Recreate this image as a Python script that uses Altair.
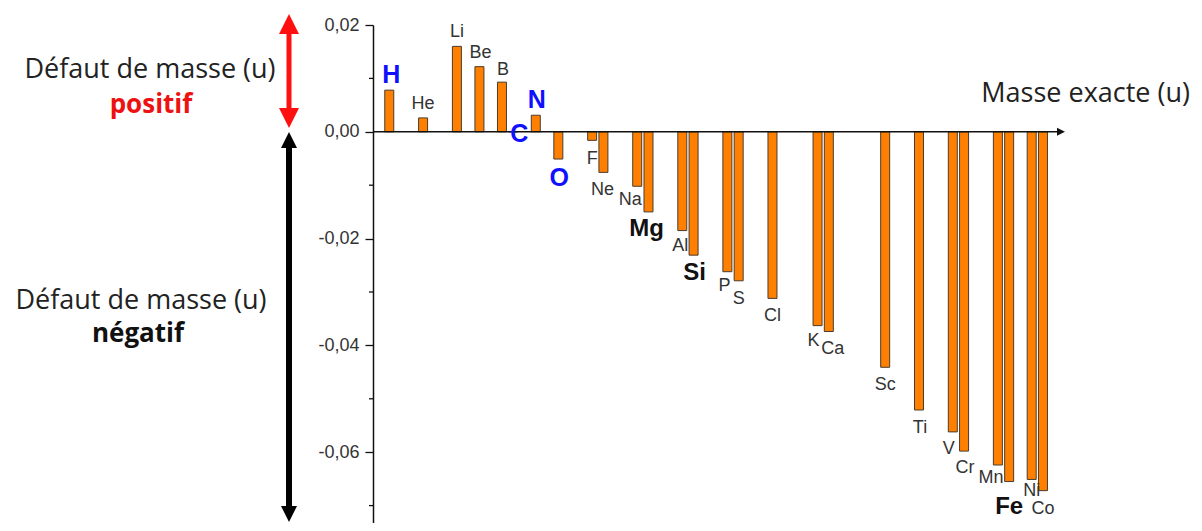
import altair as alt
import pandas as pd

# ---- data ----
elements = ["H", "He", "Li", "Be", "B", "C", "N", "O", "F", "Ne", "Na", "Mg", "Al", "Si",
            "P", "S", "Cl", "K", "Ca", "Sc", "Ti", "V", "Cr", "Mn", "Fe", "Ni", "Co"]
masses = [1, 4, 7, 9, 11, 12, 14, 16, 19, 20, 23, 24, 27, 28,
          31, 32, 35, 39, 40, 45, 48, 51, 52, 55, 56, 58, 59]
defects = [0.0078, 0.0026, 0.0160, 0.0122, 0.0093, 0.0, 0.0031, -0.0051, -0.0016, -0.0076,
           -0.0102, -0.0150, -0.0185, -0.0231, -0.0262, -0.0279, -0.0312, -0.0363, -0.0374,
           -0.0441, -0.0521, -0.0562, -0.0598, -0.0624, -0.0655, -0.0651, -0.0672]
y_major = [0.02, 0.0, -0.02, -0.04, -0.06]
y_minor = [0.01, -0.01, -0.03, -0.05, -0.07]

# ---- label layout (pixel offsets from bar end) and styles ----
label_dx = [2, 0, 0, 1, 1, 6, 1, 1, 0, -1, -7, -2, -2, 1, -3, 0, 0, -4, 4, 0, 1, -4, 1, -7, 0, 0, 0]
label_dy = [-15, -14, -14, -14, -12, 2, -15, 19, 19, 18, 14, 17, 15, 18, 14, 18, 18, 15, 17, 18,
            18, 17, 17, 13, 25, 12, 18]
label_style = ["blue", "reg", "reg", "reg", "reg", "blue", "blue", "blue", "reg", "reg", "reg",
               "bold", "reg", "bold", "reg", "reg", "reg", "reg", "reg", "reg", "reg", "reg",
               "reg", "reg", "bold", "reg", "reg"]

df = pd.DataFrame({"element": elements, "masse": masses, "defaut": defects})

W, H = 693, 498
xscale = alt.Scale(domain=[0, 60.6], nice=False, zero=False)
yscale = alt.Scale(domain=[-0.07326, 0.02], nice=False, zero=False)

X = alt.X("masse:Q", scale=xscale, axis=None)

yaxis = alt.Axis(
    values=y_major,
    labelExpr="replace(replace(format(datum.value, '.2f'), '.', ','), '\u2212', '-')",
    tickSize=8, tickColor="#111", tickWidth=1.3,
    domainColor="#111", domainWidth=1.5,
    labelFont="Liberation Sans", labelFontSize=18, labelColor="#333",
    labelPadding=6, grid=False, title=None,
)

bars = alt.Chart(df).mark_bar(size=9, color="#ff8000", stroke="#4a3c2e", strokeWidth=1).encode(
    x=X,
    y=alt.Y("defaut:Q", scale=yscale, axis=yaxis),
    y2=alt.Y2Datum(0),
)

minor = alt.Chart(pd.DataFrame({"v": y_minor})).mark_rule(color="#111", strokeWidth=1.3).encode(
    y=alt.Y("v:Q", scale=yscale),
    x=alt.value(-4), x2=alt.value(0),
)

# x axis line with arrow head at y = 0
xline = alt.Chart(pd.DataFrame({"v": [0.0]})).mark_rule(color="#111", strokeWidth=1.5).encode(
    y=alt.Y("v:Q", scale=yscale), x=alt.value(0), x2=alt.value(688),
)
xhead = alt.Chart(pd.DataFrame({"v": [0.0]})).mark_point(
    shape="M0,0L-2,-1L-2,1Z", filled=True, color="#111", opacity=1, size=64
).encode(y=alt.Y("v:Q", scale=yscale), x=alt.value(692))

styles = {
    "reg": dict(font="Liberation Sans", fontSize=18, color="#333", fontWeight="normal"),
    "blue": dict(font="Liberation Sans", fontSize=25, color="#1010ff", fontWeight="bold"),
    "bold": dict(font="Liberation Sans", fontSize=24, color="#111", fontWeight="bold"),
}
label_layers = []
for el, ddx, ddy, key in zip(elements, label_dx, label_dy, label_style):
    label_layers.append(
        alt.Chart(df).transform_filter(alt.datum.element == el).mark_text(
            align="center", baseline="middle", dx=ddx, dy=ddy, **styles[key]
        ).encode(
            x=X,
            y=alt.Y("defaut:Q", scale=yscale),
            text="element:N",
        )
    )

one = pd.DataFrame({"a": [0]})


def note(text, x, y, size=27, color="#222", weight="normal", align="center"):
    return alt.Chart(one).mark_text(
        text=text, font="Open Sans", fontSize=size, color=color, fontWeight=weight,
        align=align, baseline="middle"
    ).encode(x=alt.value(x), y=alt.value(y))


notes = [
    note("Défaut de masse (u)", -223, 45),
    note("positif", -222, 80, size=26, color="#ee1111", weight="bold"),
    note("Défaut de masse (u)", -232, 276),
    note("négatif", -235, 309, size=26, color="#111", weight="bold"),
    note("Masse exacte (u)", 817, 69, size=27, align="right"),
]

# left arrows (decorations)
AX = -84
red_line = alt.Chart(one).mark_rule(color="#ff1010", strokeWidth=5).encode(
    x=alt.value(AX), y=alt.value(-1), y2=alt.value(94))
red_up = alt.Chart(one).mark_point(shape="M0,0L1,2L-1,2Z", filled=True, color="#ff1010",
                                   opacity=1, size=400).encode(x=alt.value(AX), y=alt.value(-11))
red_down = alt.Chart(one).mark_point(shape="M0,0L1,-2L-1,-2Z", filled=True, color="#ff1010",
                                     opacity=1, size=400).encode(x=alt.value(AX), y=alt.value(103))
blk_line = alt.Chart(one).mark_rule(color="#000", strokeWidth=6).encode(
    x=alt.value(AX), y=alt.value(118), y2=alt.value(486))
blk_up = alt.Chart(one).mark_point(shape="M0,0L1,2L-1,2Z", filled=True, color="#000",
                                   opacity=1, size=256).encode(x=alt.value(AX), y=alt.value(107))
blk_down = alt.Chart(one).mark_point(shape="M0,0L1,-2L-1,-2Z", filled=True, color="#000",
                                     opacity=1, size=256).encode(x=alt.value(AX), y=alt.value(497))

chart = alt.layer(
    bars, minor, xline, xhead, *label_layers, *notes,
    red_line, red_up, red_down, blk_line, blk_up, blk_down,
).properties(
    width=W, height=H, background="white",
    padding={"left": 365, "top": 17, "right": 128, "bottom": 0},
    autosize=alt.AutoSizeParams(type="none"),
).configure_view(stroke=None)

chart.save("out.html", embed_options={"renderer": "svg", "actions": False})
